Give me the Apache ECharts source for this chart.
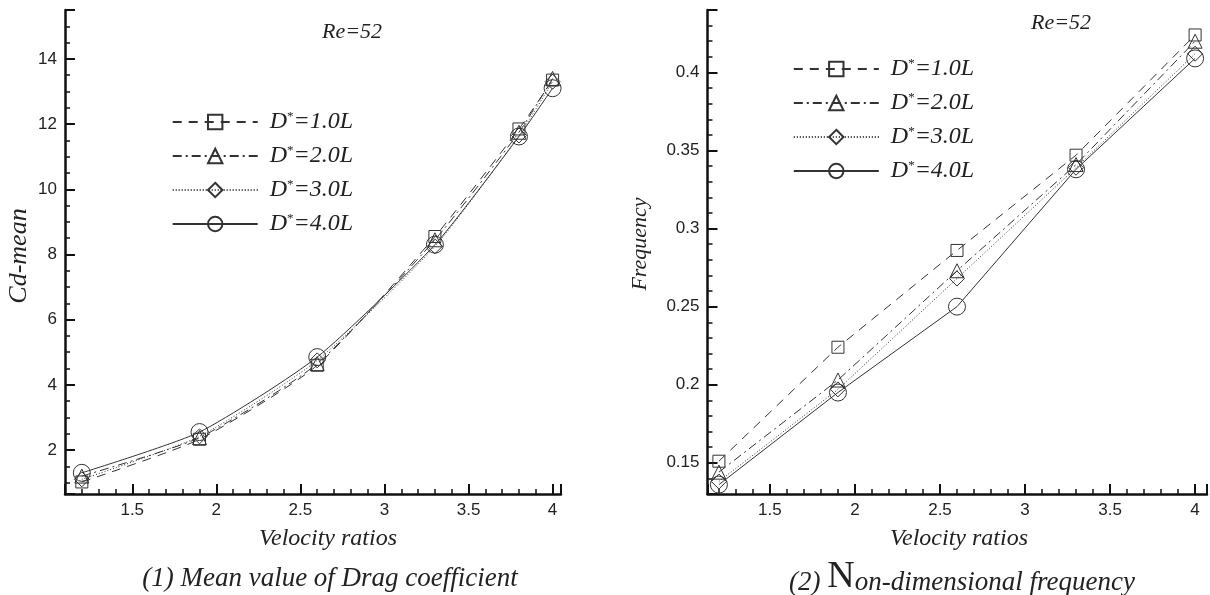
<!DOCTYPE html>
<html>
<head>
<meta charset="utf-8">
<script src="https://cdn.jsdelivr.net/npm/echarts@6/dist/echarts.min.js"></script>
<style>
  html, body { margin: 0; padding: 0; background: #fff; }
  #chart { width: 1210px; height: 595px; }
</style>
</head>
<body>
<div id="chart"></div>
<script>
// Velocity ratios sampled in each study
const velocityDrag = [1.2, 1.9, 2.6, 3.3, 3.8, 4.0];
const velocityFreq = [1.2, 1.9, 2.6, 3.3, 4.0];

// Mean drag coefficient for each spacing D*
const cdD1 = [1.02, 2.33, 4.60, 8.55, 11.85, 13.35];
const cdD2 = [1.20, 2.38, 4.65, 8.45, 11.75, 13.40];
const cdD3 = [1.10, 2.42, 4.75, 8.25, 11.65, 13.30];
const cdD4 = [1.30, 2.55, 4.85, 8.30, 11.62, 13.10];

// Non-dimensional shedding frequency for each spacing D*
const frD1 = [0.151, 0.224, 0.286, 0.347, 0.424];
const frD2 = [0.144, 0.203, 0.273, 0.341, 0.420];
const frD3 = [0.138, 0.197, 0.268, 0.339, 0.412];
const frD4 = [0.136, 0.195, 0.250, 0.338, 0.409];

// Series names and legend text
const seriesNames = ['D1', 'D2', 'D3', 'D4'];
const legendLabels = ['1.0L', '2.0L', '3.0L', '4.0L'];

// Tick labels
const xTicks = [1.5, 2, 2.5, 3, 3.5, 4];
const cdTicks = [2, 4, 6, 8, 10, 12, 14];
const frTicks = [0.15, 0.2, 0.25, 0.3, 0.35, 0.4];

// Axis ranges
const xRangeDrag = [1.1, 4.05];
const xRangeFreq = [1.133, 4.07];
const cdRange = [0.65, 15.5];
const frRange = [0.13, 0.44];

const INK = '#222';
const LINE = '#333';
const AXIS = '#111';
const serif = 'Liberation Serif';
const sans = 'Liberation Sans';

const styles = [
  { symbol: 'rect', size: 12, type: [9, 7] },
  { symbol: 'triangle', size: 14, type: [9, 4, 2, 4] },
  { symbol: 'diamond', size: 15, type: [1, 2] },
  { symbol: 'circle', size: 17, type: 'solid' }
];

// Only print labels for the listed tick values (the range ends stay unlabeled)
function labelFilter(list) {
  return function (v) {
    return list.some(t => Math.abs(t - v) < 1e-6) ? String(v) : '';
  };
}

function makeSeries(name, xs, ys, idx, st, smooth) {
  return {
    name: name,
    type: 'line',
    xAxisIndex: idx,
    yAxisIndex: idx,
    data: xs.map((x, i) => [x, ys[i]]),
    symbol: st.symbol,
    symbolSize: st.size,
    smooth: smooth,
    lineStyle: { color: LINE, width: 1, type: st.type },
    itemStyle: { color: 'rgba(255,255,255,0)', borderColor: LINE, borderWidth: 1 },
    z: 3
  };
}

// One value axis with inward major ticks and inward minor ticks
function axis(grid, range, split, minorSplit, ticks) {
  return {
    type: 'value', gridIndex: grid, min: range[0], max: range[1], splitNumber: split,
    axisLine: { show: true, onZero: false, lineStyle: { color: AXIS, width: 2.5 } },
    axisTick: { show: true, inside: true, length: 10, lineStyle: { color: AXIS, width: 2 } },
    minorTick: { show: true, splitNumber: minorSplit, length: 5, lineStyle: { color: AXIS, width: 1.5 } },
    axisLabel: { color: INK, fontFamily: sans, fontSize: 17, margin: 8, formatter: labelFilter(ticks) },
    splitLine: { show: false }
  };
}

function legendFor(left, top) {
  return {
    data: seriesNames,
    orient: 'vertical',
    left: left, top: top,
    padding: 0,
    itemWidth: 85, itemHeight: 18, itemGap: 10,
    selectedMode: false,
    formatter: function (name) {
      const i = seriesNames.indexOf(name);
      return '{d|D}{s|*}{d|=' + legendLabels[i] + '}';
    },
    textStyle: {
      padding: [0, 0, 0, 7],
      rich: {
        d: { fontFamily: serif, fontStyle: 'italic', fontSize: 24, color: INK, lineHeight: 24 },
        s: { fontFamily: serif, fontSize: 13, color: INK, verticalAlign: 'top', lineHeight: 18 }
      }
    }
  };
}

function label(text, x, y, size, rotation) {
  return {
    type: 'text', x: x, y: y, rotation: rotation || 0,
    style: { text: text, font: 'italic ' + size + 'px ' + serif, fill: INK, textAlign: 'center', textVerticalAlign: 'middle' }
  };
}

const series = [];
[cdD1, cdD2, cdD3, cdD4].forEach((ys, i) => series.push(makeSeries(seriesNames[i], velocityDrag, ys, 0, styles[i], 0.2)));
[frD1, frD2, frD3, frD4].forEach((ys, i) => series.push(makeSeries(seriesNames[i], velocityFreq, ys, 1, styles[i], false)));

const chart = echarts.init(document.getElementById('chart'));
chart.setOption({
  backgroundColor: '#fff',
  animation: false,
  grid: [
    { left: 65, top: 10, width: 496, height: 484 },
    { left: 707.5, top: 10, width: 501, height: 484 }
  ],
  xAxis: [
    axis(0, xRangeDrag, 5, 5, xTicks),
    axis(1, xRangeFreq, 5, 5, xTicks)
  ],
  yAxis: [
    axis(0, cdRange, 7, 4, cdTicks),
    axis(1, frRange, 6, 5, frTicks)
  ],
  legend: [legendFor(171.7, 110), legendFor(792.8, 57)],
  series: series,
  graphic: [
    label('Cd-mean', 19, 256, 26, Math.PI / 2),
    label('Frequency', 640, 244, 22, Math.PI / 2),
    label('Velocity ratios', 328, 539, 24),
    label('Velocity ratios', 959, 539, 24),
    label('Re=52', 352, 32, 22),
    label('Re=52', 1061, 23, 22),
    label('(1) Mean value of Drag coefficient', 330, 579, 27),
    { type: 'text', x: 962, y: 577, style: {
        text: '{a|(2) }{n|N}{a|on-dimensional frequency}', textAlign: 'center', textVerticalAlign: 'middle',
        rich: {
          a: { fontFamily: serif, fontStyle: 'italic', fontSize: 27, fill: INK, verticalAlign: 'bottom' },
          n: { fontFamily: serif, fontSize: 38, fill: INK, verticalAlign: 'bottom' }
        }
      } }
  ]
});
</script>
</body>
</html>
